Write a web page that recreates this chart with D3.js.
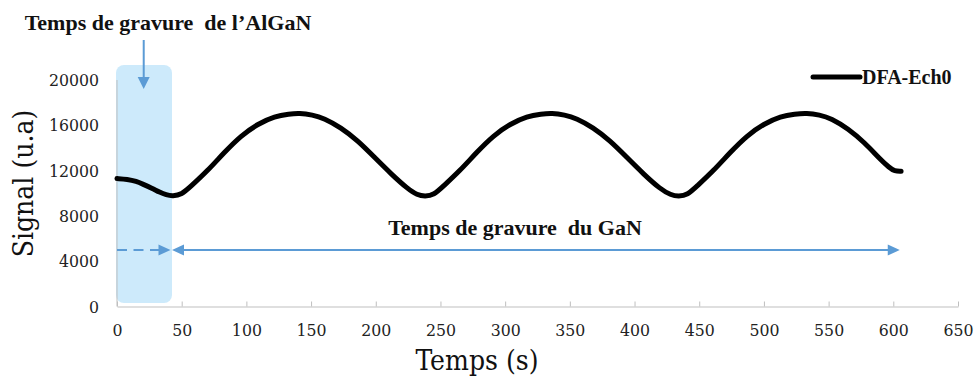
<!DOCTYPE html>
<html>
<head>
<meta charset="utf-8">
<script src="https://cdn.jsdelivr.net/npm/d3@7"></script>
<style>
  html, body { margin: 0; padding: 0; background: #fff; }
  svg { display: block; }
  .reg { font-family: "DejaVu Serif Condensed", "DejaVu Serif", serif; font-stretch: condensed; }
  .bold { font-family: "Liberation Serif", "Times New Roman", serif; font-weight: bold; }
</style>
</head>
<body>
<svg id="chart" width="976" height="376"></svg>
<script>
// ---- data ----
const times = [0, 8, 15, 20, 27, 33, 38, 43, 50, 57, 70, 83, 96, 109, 122, 133, 141,
  151, 160, 173, 186, 199, 212, 225, 232, 238,
  245, 252, 265, 278, 291, 304, 317, 328, 336,
  346, 355, 368, 381, 394, 407, 420, 428, 434,
  441, 448, 461, 474, 487, 500, 513, 524, 533,
  543, 552, 565, 578, 589, 597, 601, 606];
const signal = [11300, 11240, 11050, 10800, 10450, 10080, 9850, 9750, 9880, 10600, 11980, 13620, 15100, 16130, 16800, 17000, 17080,
  16920, 16620, 15800, 14650, 13170, 11690, 10360, 9850, 9720,
  9850, 10600, 11980, 13620, 15100, 16130, 16800, 17000, 17080,
  16920, 16620, 15800, 14650, 13170, 11690, 10360, 9850, 9720,
  9850, 10600, 11980, 13620, 15100, 16130, 16800, 17000, 17080,
  16920, 16620, 15700, 14450, 13100, 12250, 11950, 11950];
const xTicks = [0, 50, 100, 150, 200, 250, 300, 350, 400, 450, 500, 550, 600, 650];
const yTicks = [0, 4000, 8000, 12000, 16000, 20000];
const seriesName = "DFA-Ech0";
const xTitle = "Temps (s)";
const yTitle = "Signal (u.a)";
const algaNLabel = "Temps de gravure  de l\u2019AlGaN";
const ganLabel = "Temps de gravure  du GaN";
const algaNEnd = 42.5;
const ganEnd = 605;
const arrowLevel = 5000;

// ---- layout ----
const svg = d3.select("#chart");
const x = d3.scaleLinear().domain([0, 650]).range([117, 958]);
const y = d3.scaleLinear().domain([0, 20000]).range([306.5, 80]);
const blue = "#5b9bd5";

svg.append("rect")
  .attr("x", x(0) - 1).attr("y", 65)
  .attr("width", x(algaNEnd) - x(0) + 1).attr("height", 303 - 65)
  .attr("rx", 8).attr("ry", 8)
  .attr("fill", "#cdeafb");

svg.append("line")
  .attr("x1", x(0)).attr("x2", x(0))
  .attr("y1", y(20000)).attr("y2", y(0))
  .attr("stroke", "#bfbfbf").attr("stroke-width", 1);

const yAxis = d3.axisLeft(y).tickValues(yTicks).tickSize(0).tickPadding(18).tickFormat(d3.format("d"));
const gy = svg.append("g").attr("transform", `translate(${x(0)},0)`).call(yAxis);
gy.attr("font-family", null).attr("font-size", null);
gy.select(".domain").remove();
gy.selectAll("text").attr("class", "reg").style("font-size", "17.5px").attr("fill", "#222");

const xAxis = d3.axisBottom(x).tickValues(xTicks).tickSize(0).tickPadding(17).tickFormat(d3.format("d"));
const gx = svg.append("g").attr("transform", `translate(0,${y(0)})`).call(xAxis);
gx.attr("font-family", null).attr("font-size", null);
gx.select(".domain").attr("stroke", "#bfbfbf");
gx.selectAll("text").attr("class", "reg").style("font-size", "17.5px").attr("fill", "#222");
gx.selectAll(".tick").append("line")
  .attr("y1", 0).attr("y2", -5).attr("stroke", "#bfbfbf");

const pts = times.map((t, i) => [t, signal[i]]);
svg.append("path")
  .datum(pts)
  .attr("fill", "none")
  .attr("stroke", "#000")
  .attr("stroke-width", 5)
  .attr("stroke-linejoin", "round")
  .attr("stroke-linecap", "round")
  .attr("d", d3.line().x(d => x(d[0])).y(d => y(d[1])).curve(d3.curveBasis));

svg.append("line")
  .attr("x1", 813).attr("x2", 860).attr("y1", 77).attr("y2", 77)
  .attr("stroke", "#000").attr("stroke-width", 5).attr("stroke-linecap", "round");
svg.append("text").attr("class", "bold")
  .attr("x", 862).attr("y", 84)
  .style("font-size", "20px")
  .attr("fill", "#111").text(seriesName);

svg.append("text").attr("class", "reg")
  .attr("x", 477).attr("y", 370)
  .attr("text-anchor", "middle")
  .style("font-size", "28px").attr("fill", "#111")
  .text(xTitle);
svg.append("text").attr("class", "reg")
  .attr("transform", "translate(33,183.5) rotate(-90)")
  .attr("text-anchor", "middle")
  .style("font-size", "28px").attr("fill", "#111")
  .text(yTitle);

function arrowHead(tipX, tipY, dir, len, half) {
  let p;
  if (dir === "right") p = [[tipX, tipY], [tipX - len, tipY - half], [tipX - len, tipY + half]];
  else if (dir === "left") p = [[tipX, tipY], [tipX + len, tipY - half], [tipX + len, tipY + half]];
  else p = [[tipX, tipY], [tipX - half, tipY - len], [tipX + half, tipY - len]];
  svg.append("path").attr("d", "M" + p.map(q => q.join(",")).join("L") + "Z").attr("fill", blue);
}

svg.append("text").attr("class", "bold")
  .attr("x", 168).attr("y", 30)
  .attr("text-anchor", "middle")
  .style("white-space", "pre")
  .style("font-size", "22px")
  .attr("fill", "#111").text(algaNLabel);
const ax = x(algaNEnd / 2 - 0.6);
svg.append("line")
  .attr("x1", ax).attr("x2", ax).attr("y1", 40).attr("y2", 80)
  .attr("stroke", blue).attr("stroke-width", 2);
arrowHead(ax, 89, "down", 12, 6);

const ay = y(arrowLevel);
svg.append("line")
  .attr("x1", x(0)).attr("x2", x(algaNEnd) - 12).attr("y1", ay).attr("y2", ay)
  .attr("stroke", blue).attr("stroke-width", 2).attr("stroke-dasharray", "10,6.5");
arrowHead(x(algaNEnd) - 1.5, ay, "right", 12, 5.5);
svg.append("line")
  .attr("x1", x(algaNEnd) + 10).attr("x2", x(ganEnd) - 10).attr("y1", ay).attr("y2", ay)
  .attr("stroke", blue).attr("stroke-width", 2);
arrowHead(x(algaNEnd), ay, "left", 12, 5.5);
arrowHead(x(ganEnd), ay, "right", 12, 5.5);

svg.append("text").attr("class", "bold")
  .attr("x", 515).attr("y", 235)
  .attr("text-anchor", "middle")
  .style("white-space", "pre")
  .style("font-size", "22px")
  .attr("fill", "#111").text(ganLabel);
</script>
</body>
</html>
